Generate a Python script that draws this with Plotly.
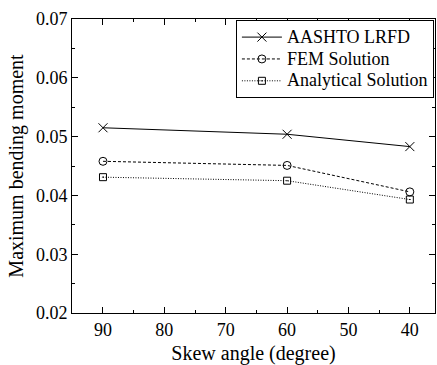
import plotly.graph_objects as go

skew = [90, 60, 40]
aashto = [0.0515, 0.0504, 0.0483]
fem = [0.0458, 0.0451, 0.0406]
analytical = [0.0431, 0.0425, 0.0393]
names = ["AASHTO LRFD", "FEM Solution", "Analytical Solution"]

FONT = "Liberation Serif, Times New Roman, serif"


def legend_label(t):
    return '<span style="font-size:18px">' + t + "</span>"


fig = go.Figure()
fig.add_trace(go.Scatter(
    x=skew, y=aashto, name=legend_label(names[0]), mode="lines+markers",
    line=dict(color="black", width=1),
    marker=dict(symbol="x-thin-open", size=9, color="black", line=dict(color="black", width=1)),
))
fig.add_trace(go.Scatter(
    x=skew, y=fem, name=legend_label(names[1]), mode="lines+markers",
    line=dict(color="black", width=1, dash="3px,2px"),
    marker=dict(symbol="circle-open", size=8, color="black", line=dict(color="black", width=1)),
))
fig.add_trace(go.Scatter(
    x=skew, y=analytical, name=legend_label(names[2]), mode="lines+markers",
    line=dict(color="black", width=1, dash="1px,1.5px"),
    marker=dict(symbol="square-open-dot", size=7, color="black", line=dict(color="black", width=1)),
))

axis_common = dict(
    showline=True, linecolor="black", linewidth=1, mirror="ticks",
    ticks="inside", ticklen=6, tickwidth=1, tickcolor="black",
    showgrid=False, zeroline=False,
    tickfont=dict(family=FONT, size=18, color="black"),
)

fig.update_xaxes(
    **axis_common,
    range=[95.05, 35.9], tickvals=[90, 80, 70, 60, 50, 40],
    minor=dict(ticks="inside", ticklen=3, tickwidth=1, tickcolor="black", dtick=5, showgrid=False),
    title=dict(text="Skew angle (degree)", font=dict(family=FONT, size=20, color="black"), standoff=8),
)
fig.update_yaxes(
    **axis_common,
    range=[0.02, 0.07], dtick=0.01, tick0=0.02, tickformat=".2f",
    minor=dict(ticks="inside", ticklen=3, tickwidth=1, tickcolor="black", dtick=0.005, showgrid=False),
    title=dict(text="Maximum bending moment", font=dict(family=FONT, size=20, color="black"), standoff=6),
)

fig.update_layout(
    width=437, height=365,
    margin=dict(l=72, r=2, t=19, b=52),
    paper_bgcolor="white", plot_bgcolor="white",
    font=dict(family=FONT, size=18, color="black"),
    legend=dict(
        x=0.997, y=0.996, xanchor="right", yanchor="top",
        bordercolor="black", borderwidth=1, bgcolor="white",
        font=dict(family=FONT, size=14.5, color="black"),
        tracegroupgap=0, itemwidth=40,
    ),
)

fig.write_html("out.html")
